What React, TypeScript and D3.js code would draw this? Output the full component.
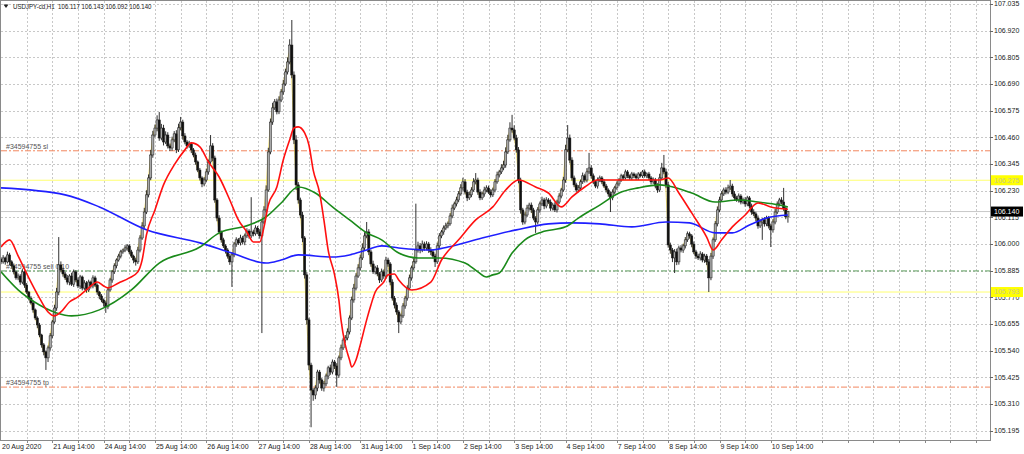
import React from 'react';
import * as d3 from 'd3';

// hourly closes, USDJPY-cd H1, from 20 Aug 2020 14:00 (weekend hours skipped)
const closes = [
  105.923, 105.940, 105.923, 105.953, 105.923, 105.906, 105.880, 105.854, 105.862, 105.836,
  105.880, 105.823, 105.793, 105.767, 105.746, 105.716, 105.681, 105.651, 105.608, 105.565,
  105.535, 105.509, 105.552, 105.604, 105.664, 105.724, 105.793, 105.910, 105.888, 105.871,
  105.854, 105.836, 105.862, 105.827, 105.880, 105.845, 105.819, 105.858, 105.810, 105.832,
  105.802, 105.836, 105.819, 105.854, 105.823, 105.793, 105.776, 105.759, 105.746, 105.729,
  105.802, 105.845, 105.880, 105.906, 105.931, 105.948, 105.966, 105.974, 105.983, 105.992,
  105.966, 105.948, 105.931, 105.923, 105.974, 106.026, 106.078, 106.138, 106.212, 106.285,
  106.384, 106.470, 106.500, 106.535, 106.457, 106.500, 106.440, 106.470, 106.423, 106.414,
  106.449, 106.475, 106.406, 106.501, 106.526, 106.466, 106.440, 106.423, 106.431, 106.406,
  106.384, 106.354, 106.319, 106.285, 106.259, 106.276, 106.311, 106.354, 106.423, 106.371,
  106.190, 106.112, 106.052, 106.018, 105.992, 105.974, 105.948, 105.923, 105.953, 106.000,
  106.018, 106.005, 106.026, 106.009, 106.035, 106.056, 106.035, 106.052, 106.044, 106.069,
  106.052, 106.035, 106.095, 106.147, 106.233, 106.397, 106.526, 106.587, 106.613, 106.570,
  106.621, 106.656, 106.690, 106.742, 106.785, 106.858, 106.729, 106.449, 106.255, 106.190,
  106.125, 106.026, 105.867, 105.673, 105.478, 105.370, 105.349, 105.379, 105.448, 105.414,
  105.379, 105.397, 105.431, 105.466, 105.448, 105.491, 105.474, 105.435, 105.509, 105.552,
  105.586, 105.595, 105.621, 105.681, 105.759, 105.810, 105.862, 105.897, 105.940, 105.983,
  106.035, 106.052, 105.966, 105.914, 105.880, 105.897, 105.871, 105.845, 105.880, 105.862,
  105.931, 105.914, 105.836, 105.767, 105.737, 105.707, 105.664, 105.690, 105.733, 105.767,
  105.810, 105.854, 105.897, 105.923, 105.974, 105.992, 105.974, 106.000, 105.983, 106.000,
  105.974, 105.966, 105.948, 105.923, 105.992, 106.035, 106.052, 106.069, 106.078, 106.087,
  106.121, 106.155, 106.173, 106.190, 106.216, 106.242, 106.268, 106.224, 106.199, 106.212,
  106.233, 106.268, 106.276, 106.224, 106.199, 106.216, 106.233, 106.242, 106.224, 106.212,
  106.233, 106.268, 106.298, 106.311, 106.328, 106.341, 106.397, 106.449, 106.500, 106.492,
  106.457, 106.406, 106.276, 106.147, 106.095, 106.125, 106.155, 106.168, 106.147, 106.112,
  106.095, 106.147, 106.173, 106.190, 106.164, 106.190, 106.181, 106.155, 106.168, 106.147,
  106.181, 106.207, 106.233, 106.276, 106.406, 106.457, 106.362, 106.285, 106.255, 106.233,
  106.242, 106.268, 106.294, 106.276, 106.311, 106.328, 106.294, 106.268, 106.250, 106.276,
  106.285, 106.268, 106.250, 106.233, 106.216, 106.199, 106.224, 106.242, 106.259, 106.276,
  106.294, 106.285, 106.311, 106.294, 106.285, 106.302, 106.294, 106.285, 106.302, 106.294,
  106.311, 106.294, 106.302, 106.285, 106.268, 106.276, 106.250, 106.233, 106.285, 106.328,
  106.311, 106.255, 105.996, 105.974, 105.940, 105.966, 105.923, 105.983, 105.974, 105.992,
  106.018, 106.044, 106.035, 106.000, 105.966, 105.948, 105.940, 105.957, 105.931, 105.948,
  105.923, 105.854, 105.948, 106.018, 106.087, 106.147, 106.190, 106.216, 106.233, 106.224,
  106.242, 106.250, 106.216, 106.199, 106.190, 106.207, 106.181, 106.190, 106.173, 106.199,
  106.164, 106.138, 106.130, 106.112, 106.078, 106.095, 106.104, 106.087, 106.112, 106.078,
  106.061, 106.095, 106.138, 106.173, 106.190, 106.181, 106.155, 106.117, 106.140,
];
const firstOpen = 105.935;

// upper / lower shadows in points (0.001)
const wickHi = [
  8, 12, 6, 14, 9, 7, 10, 5, 11, 8,
  12, 6, 9, 5, 8, 10, 6, 7, 9, 5,
  8, 6, 10, 12, 9, 14, 18, 120, 15, 10,
  9, 12, 8, 14, 10, 7, 11, 9, 6, 12,
  8, 10, 6, 11, 9, 7, 5, 8, 6, 10,
  12, 9, 8, 11, 7, 10, 9, 6, 12, 8,
  7, 9, 6, 10, 14, 12, 16, 18, 20, 15,
  22, 18, 15, 20, 34, 18, 14, 16, 12, 10,
  14, 12, 16, 18, 22, 10, 12, 8, 14, 9,
  8, 10, 6, 9, 7, 12, 14, 10, 47, 12,
  10, 8, 12, 6, 9, 7, 8, 10, 12, 9,
  11, 8, 14, 9, 10, 12, 8, 150, 10, 12,
  9, 12, 14, 16, 20, 18, 15, 22, 12, 14,
  16, 12, 18, 14, 20, 25, 108, 15, 20, 12,
  10, 14, 8, 12, 9, 10, 8, 12, 10, 9,
  8, 12, 10, 9, 14, 11, 9, 12, 10, 14,
  10, 12, 15, 11, 14, 18, 12, 16, 14, 20,
  16, 43, 12, 10, 14, 9, 12, 8, 14, 10,
  14, 10, 8, 12, 9, 11, 8, 10, 12, 9,
  12, 14, 10, 16, 200, 18, 12, 15, 10, 12,
  9, 12, 8, 10, 14, 12, 9, 11, 14, 10,
  12, 15, 10, 14, 12, 16, 18, 12, 10, 14,
  12, 16, 30, 10, 12, 9, 14, 11, 10, 12,
  10, 12, 14, 9, 16, 18, 20, 22, 25, 57,
  20, 14, 12, 10, 9, 12, 14, 10, 11, 9,
  8, 12, 10, 14, 9, 12, 8, 11, 10, 12,
  10, 12, 9, 14, 22, 56, 15, 12, 10, 9,
  12, 10, 14, 9, 16, 65, 12, 10, 8, 11,
  10, 8, 12, 9, 7, 10, 12, 9, 11, 8,
  9, 7, 10, 8, 6, 9, 7, 10, 8, 9,
  8, 10, 7, 9, 8, 11, 9, 12, 18, 22,
  56, 14, 12, 10, 9, 12, 14, 10, 12, 9,
  12, 10, 9, 8, 11, 9, 10, 12, 8, 10,
  9, 12, 14, 10, 12, 15, 14, 12, 10, 12,
  14, 26, 10, 12, 9, 11, 8, 10, 12, 9,
  8, 10, 12, 9, 11, 10, 8, 12, 10, 9,
  10, 12, 14, 11, 9, 12, 61, 10, 3,
];
const wickLo = [
  10, 8, 12, 7, 14, 9, 11, 8, 10, 12,
  9, 12, 8, 10, 7, 12, 9, 14, 10, 12,
  15, 52, 18, 12, 10, 8, 12, 14, 10, 12,
  9, 11, 14, 8, 12, 10, 9, 13, 10, 8,
  12, 9, 11, 10, 8, 12, 14, 10, 16, 26,
  10, 8, 12, 9, 11, 7, 10, 8, 9, 12,
  10, 8, 14, 16, 9, 10, 8, 12, 9, 11,
  10, 12, 9, 14, 12, 10, 15, 9, 11, 13,
  12, 10, 14, 9, 11, 16, 10, 12, 9, 14,
  10, 12, 9, 11, 14, 10, 8, 12, 10, 14,
  12, 14, 10, 12, 9, 15, 11, 13, 108, 10,
  12, 9, 11, 10, 14, 9, 12, 10, 11, 8,
  10, 12, 419, 9, 11, 8, 10, 12, 9, 11,
  10, 9, 12, 8, 11, 10, 14, 18, 22, 16,
  14, 18, 16, 20, 22, 160, 25, 18, 14, 16,
  12, 15, 10, 14, 12, 10, 13, 51, 12, 10,
  9, 12, 10, 11, 9, 12, 10, 8, 11, 9,
  12, 10, 14, 12, 9, 11, 10, 13, 9, 12,
  10, 12, 14, 11, 15, 12, 48, 10, 9, 12,
  11, 9, 12, 10, 8, 11, 14, 9, 12, 10,
  12, 14, 10, 22, 9, 11, 10, 12, 9, 10,
  8, 10, 9, 11, 10, 8, 12, 10, 14, 9,
  10, 8, 11, 12, 10, 9, 12, 10, 8, 11,
  9, 10, 8, 11, 9, 10, 12, 9, 8, 12,
  10, 12, 14, 16, 12, 10, 9, 11, 13, 10,
  47, 10, 12, 9, 14, 10, 8, 12, 10, 9,
  11, 9, 10, 8, 12, 10, 14, 12, 10, 9,
  10, 12, 9, 11, 10, 9, 12, 10, 9, 11,
  9, 10, 8, 11, 12, 61, 10, 9, 8, 10,
  8, 9, 7, 10, 8, 9, 10, 8, 9, 7,
  9, 8, 10, 9, 11, 9, 10, 12, 9, 8,
  10, 14, 12, 16, 18, 65, 14, 12, 10, 12,
  11, 9, 12, 14, 10, 12, 9, 11, 10, 12,
  14, 61, 10, 12, 9, 11, 10, 8, 9, 10,
  9, 10, 12, 9, 8, 11, 10, 9, 12, 10,
  11, 12, 10, 14, 12, 9, 77, 12, 10, 11,
  74, 12, 10, 9, 11, 10, 12, 10, 25,
];

// moving averages: [bar, price]
const maRed: [number, number][] = [
  [0, 105.987], [4, 106.018], [8, 105.949], [13, 105.854], [18, 105.767], [22, 105.707],
  [25, 105.690], [28, 105.707], [32, 105.750], [36, 105.772], [41, 105.811], [45, 105.836],
  [48, 105.819], [50, 105.811], [55, 105.832], [60, 105.854], [64, 105.880], [66, 105.931],
  [68, 106.039], [72, 106.147], [76, 106.255], [81, 106.341], [86, 106.406], [89, 106.436],
  [93, 106.419], [97, 106.354], [102, 106.289], [107, 106.190], [111, 106.104], [115, 106.052],
  [118, 106.009], [121, 106.009], [123, 106.074], [125, 106.168], [129, 106.246], [132, 106.362],
  [135, 106.449], [137, 106.500], [139, 106.505], [142, 106.479], [144, 106.427], [146, 106.319],
  [149, 106.220], [151, 106.104], [153, 105.974], [156, 105.867], [158, 105.759], [159, 105.673],
  [161, 105.565], [163, 105.500], [164, 105.470], [166, 105.500], [168, 105.565], [171, 105.673],
  [173, 105.737], [175, 105.793], [179, 105.836], [181, 105.867], [184, 105.871], [186, 105.845],
  [192, 105.802], [201, 105.836], [206, 105.931], [214, 106.018], [222, 106.104], [230, 106.160],
  [236, 106.233], [242, 106.276], [250, 106.246], [256, 106.220], [262, 106.160], [267, 106.203],
  [273, 106.246], [279, 106.276], [289, 106.276], [298, 106.276], [308, 106.276], [312, 106.285],
  [317, 106.220], [323, 106.134], [330, 106.030], [333, 105.974], [337, 106.018], [342, 106.074],
  [348, 106.125], [354, 106.177], [360, 106.160], [368, 106.150],
];
const maGreen: [number, number][] = [
  [0, 105.880], [8, 105.802], [18, 105.737], [26, 105.703], [33, 105.690], [46, 105.716],
  [61, 105.802], [74, 105.918], [93, 105.987], [102, 106.048], [116, 106.082], [124, 106.117],
  [131, 106.177], [139, 106.246], [147, 106.220], [155, 106.160], [163, 106.104], [171, 106.048],
  [178, 106.018], [186, 105.961], [195, 105.940], [205, 105.940], [217, 105.918], [223, 105.880],
  [227, 105.858], [230, 105.867], [233, 105.875], [239, 105.961], [245, 106.018], [253, 106.052],
  [264, 106.074], [270, 106.112], [280, 106.168], [289, 106.220], [298, 106.242], [308, 106.255],
  [312, 106.250], [323, 106.220], [334, 106.181], [345, 106.190], [354, 106.181], [364, 106.168],
  [368, 106.160],
];
const maBlue: [number, number][] = [
  [0, 106.242], [30, 106.212], [46, 106.160], [68, 106.061], [93, 106.005], [108, 105.961],
  [124, 105.918], [131, 105.931], [139, 105.953], [155, 105.944], [163, 105.953], [171, 105.974],
  [178, 105.992], [186, 105.983], [201, 105.974], [209, 105.987], [225, 106.026], [241, 106.061],
  [256, 106.087], [267, 106.091], [280, 106.087], [295, 106.074], [311, 106.095], [322, 106.091],
  [334, 106.048], [342, 106.048], [350, 106.082], [358, 106.112], [368, 106.125],
];

const priceTicks = [
  105.195, 105.31, 105.425, 105.54, 105.655, 105.77, 105.885, 106.0, 106.115,
  106.23, 106.345, 106.46, 106.575, 106.69, 106.805, 106.92, 107.035,
];
const timeLabels = [
  '20 Aug 2020', '21 Aug 14:00', '24 Aug 14:00', '25 Aug 14:00', '26 Aug 14:00',
  '27 Aug 14:00', '28 Aug 14:00', '31 Aug 14:00', '1 Sep 14:00', '2 Sep 14:00',
  '3 Sep 14:00', '4 Sep 14:00', '7 Sep 14:00', '8 Sep 14:00', '9 Sep 14:00', '10 Sep 14:00',
];
const header = { symbol: 'USDJPY-cd,H1', values: ['106.117', '106.143', '106.092', '106.140'] };

const orderLines = [
  { label: '#34594755 sl', price: 106.402, color: '#f2865e' },
  { label: '#34594755 sell 0.10', price: 105.884, color: '#5f9f5f' },
  { label: '#34594755 tp', price: 105.383, color: '#f2865e' },
];
const alertLevels = [106.275, 105.793];
const bid = 106.14;

const W = 1024;
const H = 454;
const left = 1;
const right = 990;
const top = 1;
const bottom = 440;
const barStep = 2.1384;
const font = 'Liberation Sans, Arial, sans-serif';

export default function App() {
  const x = d3.scaleLinear().domain([0, 1]).range([left, left + barStep]);
  const y = d3.scaleLinear().domain([105.195, 107.035]).range([430.7, 4]);

  const bars = closes.map((c, i) => {
    const o = i === 0 ? firstOpen : closes[i - 1];
    return {
      i, o, c,
      h: Math.max(o, c) + wickHi[i] / 1000,
      l: Math.min(o, c) - wickLo[i] / 1000,
    };
  });

  const maLine = d3.line<[number, number]>()
    .x(d => x(d[0]))
    .y(d => y(d[1]))
    .curve(d3.curveMonotoneX);

  const priceLine = d3.line<number>()
    .x((d, i) => x(i))
    .y(d => y(d))
    .curve(d3.curveBasis);

  const lastBar = x.invert(right);
  const vGrid = d3.range(12, lastBar, 12);

  return (
    <svg width={W} height={H} style={{ position: 'absolute', left: 0, top: 0, background: '#fff' }}
      fontFamily={font}>
      <defs>
        <clipPath id="plot">
          <rect x={left} y={top} width={right - left} height={bottom - top} />
        </clipPath>
      </defs>
      <rect width={W} height={H} fill="#fff" />

      {/* grid */}
      <g stroke="#c8c8c8" strokeWidth={1} strokeDasharray="2,2">
        {priceTicks.map(p => (
          <line key={p} x1={left} x2={right} y1={Math.round(y(p)) + 0.5} y2={Math.round(y(p)) + 0.5} />
        ))}
        {vGrid.map(b => (
          <line key={b} x1={Math.round(x(b)) + 0.5} x2={Math.round(x(b)) + 0.5} y1={top} y2={bottom} />
        ))}
      </g>

      <g clipPath="url(#plot)">
        {/* alert levels */}
        {alertLevels.map(p => (
          <line key={p} x1={left} x2={right} y1={y(p)} y2={y(p)} stroke="#ffff70" strokeWidth={1} />
        ))}
        {/* bid line */}
        <line x1={left} x2={right} y1={y(bid)} y2={y(bid)} stroke="#c8c8c8" strokeWidth={1} />

        {/* order lines */}
        {orderLines.map(o => (
          <g key={o.label}>
            <line x1={left} x2={right} y1={y(o.price)} y2={y(o.price)} stroke={o.color}
              strokeWidth={1} strokeDasharray="6,2,2,2" />
            <text x={6} y={y(o.price) - 2} fontSize={7} fill="#555">{o.label}</text>
          </g>
        ))}

        {/* smoothed price */}
        <path d={priceLine(closes) ?? ''} fill="none" stroke="#ecd34a" strokeWidth={0.8} />

        {/* candles */}
        {bars.map(b => {
          const cx = x(b.i);
          const yTop = y(Math.max(b.o, b.c));
          const yBot = y(Math.min(b.o, b.c));
          const bull = b.c >= b.o;
          return (
            <g key={b.i}>
              <line x1={cx} x2={cx} y1={y(b.h)} y2={y(b.l)} stroke="#1a1a1a" strokeWidth={0.9} />
              <rect x={cx - 1.1} y={yTop} width={2.2} height={Math.max(0.8, yBot - yTop)}
                fill={bull ? '#a8a8a8' : '#111'} stroke="#1a1a1a" strokeWidth={0.5} />
            </g>
          );
        })}

        {/* moving averages */}
        <path d={maLine(maBlue) ?? ''} fill="none" stroke="#1f1fff" strokeWidth={1.6} />
        <path d={maLine(maGreen) ?? ''} fill="none" stroke="#1a8a1a" strokeWidth={1.6} />
        <path d={maLine(maRed) ?? ''} fill="none" stroke="#ff1010" strokeWidth={1.6} />
      </g>

      {/* frame */}
      <rect x={left - 0.5} y={top - 0.5} width={right - left + 1} height={bottom - top + 1}
        fill="none" stroke="#8a8a8a" strokeWidth={1} />

      {/* price axis */}
      {priceTicks.map(p => (
        <g key={p}>
          <line x1={right} x2={right + 3} y1={Math.round(y(p)) + 0.5} y2={Math.round(y(p)) + 0.5} stroke="#666" />
          <text x={right + 4} y={y(p)} dy="0.35em" fontSize={7} fill="#222">{p.toFixed(3)}</text>
        </g>
      ))}
      {alertLevels.map(p => (
        <g key={p}>
          <rect x={right + 1} y={y(p) - 5} width={32} height={10} fill="#ffff00" />
          <text x={right + 4} y={y(p)} dy="0.35em" fontSize={7} fill="#c8c890">{p.toFixed(3)}</text>
        </g>
      ))}
      <rect x={right + 1} y={y(bid) - 5} width={32} height={10} fill="#000" />
      <text x={right + 4} y={y(bid)} dy="0.35em" fontSize={7} fill="#fff">{bid.toFixed(3)}</text>

      {/* time axis */}
      {vGrid.map(b => (
        <line key={b} x1={Math.round(x(b)) + 0.5} x2={Math.round(x(b)) + 0.5} y1={bottom} y2={bottom + 3} stroke="#888" />
      ))}
      {timeLabels.map((t, k) => (
        <text key={t} x={x(k * 24) + 1} y={449} fontSize={7} fill="#222">{t}</text>
      ))}

      {/* header */}
      <path d="M3.5,4.5 L8.5,4.5 L6,8 Z" fill="#222" />
      <text x={13} y={8.8} fontSize={7.5} fill="#222" textLength={138.5} lengthAdjust="spacingAndGlyphs"
        style={{ whiteSpace: 'pre' }}>
        {`${header.symbol}  ${header.values.join(' ')}`}
      </text>
    </svg>
  );
}
